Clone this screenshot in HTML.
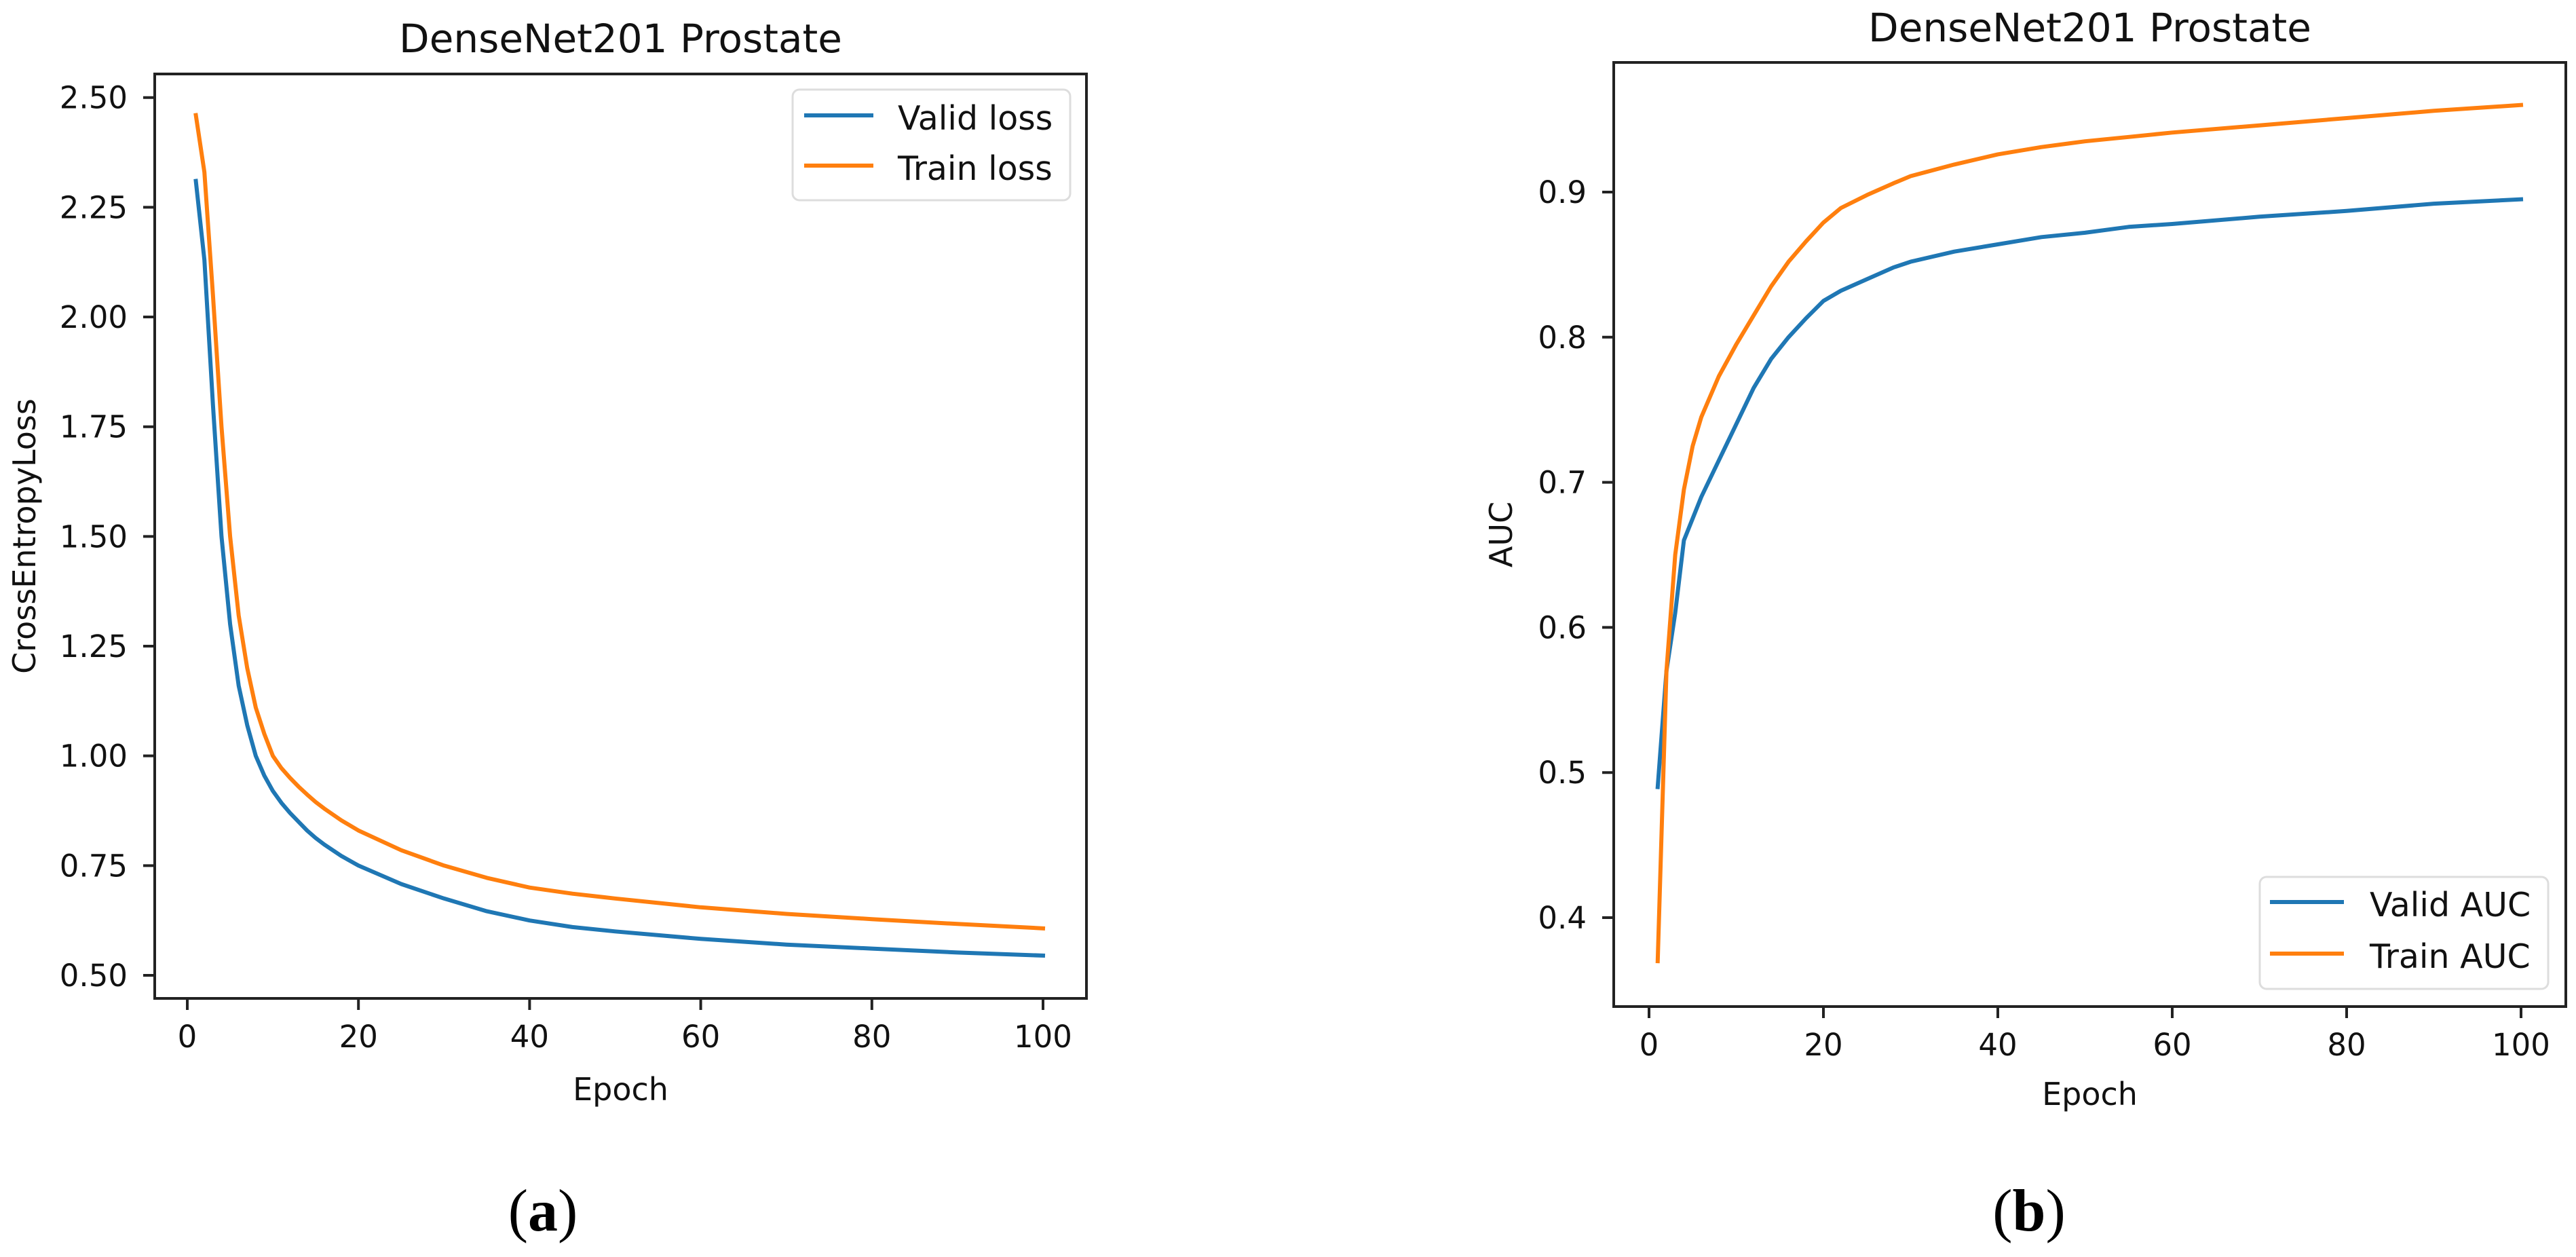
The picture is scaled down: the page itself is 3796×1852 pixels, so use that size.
<!DOCTYPE html>
<html><head><meta charset="utf-8">
<style>
html,body{margin:0;padding:0;background:#fff;}
svg{display:block;font-family:"DejaVu Sans","Liberation Sans",sans-serif;}
</style></head>
<body>
<svg id="fig" width="3796" height="1852" viewBox="0 0 3796 1852" xmlns="http://www.w3.org/2000/svg">
  <rect width="3796" height="1852" fill="#fff"/>
  <g id="chartA"></g>
  <g id="chartB"></g>
  <text x="800" y="1813" text-anchor="middle" font-family="Liberation Serif, serif" font-size="88"><tspan>(</tspan><tspan font-weight="bold">a</tspan><tspan>)</tspan></text>
  <text x="2990" y="1813" text-anchor="middle" font-family="Liberation Serif, serif" font-size="88"><tspan>(</tspan><tspan font-weight="bold">b</tspan><tspan>)</tspan></text>
</svg>
<script>
// ---- Loss chart data ----
const lossEpochs = [1,2,3,4,5,6,7,8,9,10,11,12,13,14,15,16,18,20,25,30,35,40,45,50,60,70,80,90,100];
const validLoss = [2.31,2.13,1.80,1.50,1.30,1.16,1.07,1.00,0.955,0.92,0.893,0.87,0.85,0.83,0.813,0.798,0.772,0.75,0.708,0.675,0.646,0.625,0.61,0.60,0.583,0.57,0.561,0.552,0.545];
const trainLoss = [2.46,2.33,2.05,1.75,1.50,1.32,1.20,1.11,1.05,1.00,0.972,0.95,0.93,0.912,0.895,0.88,0.853,0.83,0.785,0.75,0.722,0.70,0.686,0.675,0.655,0.64,0.628,0.617,0.607];
const lossYTicks = [0.50,0.75,1.00,1.25,1.50,1.75,2.00,2.25,2.50];
const lossYTickLabels = ["0.50","0.75","1.00","1.25","1.50","1.75","2.00","2.25","2.50"];
// ---- AUC chart data ----
const aucEpochs = [1,2,3,4,5,6,8,10,12,14,16,18,20,22,25,28,30,35,40,45,50,55,60,70,80,90,100];
const validAUC = [0.49,0.57,0.61,0.66,0.675,0.69,0.715,0.74,0.765,0.785,0.80,0.813,0.825,0.832,0.84,0.848,0.852,0.859,0.864,0.869,0.872,0.876,0.878,0.883,0.887,0.892,0.895];
const trainAUC = [0.37,0.57,0.65,0.695,0.725,0.745,0.773,0.795,0.815,0.835,0.852,0.866,0.879,0.889,0.898,0.906,0.911,0.919,0.926,0.931,0.935,0.938,0.941,0.946,0.951,0.956,0.96];
const aucYTicks = [0.4,0.5,0.6,0.7,0.8,0.9];
const aucYTickLabels = ["0.4","0.5","0.6","0.7","0.8","0.9"];
const xTicks = [0,20,40,60,80,100];
const xTickLabels = ["0","20","40","60","80","100"];

const NS = "http://www.w3.org/2000/svg";
function mk(tag, attrs, parent){
  const e = document.createElementNS(NS, tag);
  for (const k in attrs) e.setAttribute(k, attrs[k]);
  parent.appendChild(e);
  return e;
}

function drawChart(g, cfg){
  const L=cfg.left, R=cfg.right, T=cfg.top, B=cfg.bottom;
  const xs = v => cfg.x0px + (v - 0) * (cfg.x100px - cfg.x0px) / 100;
  const ys = v => cfg.ya.px + (v - cfg.ya.v) * (cfg.yb.px - cfg.ya.px) / (cfg.yb.v - cfg.ya.v);

  const title = mk('text',{x:(L+R)/2, y:cfg.titleY, 'text-anchor':'middle','font-size':58, fill:'#111'}, g);
  title.textContent = cfg.title;
  
  

  cfg.series.forEach(s=>{
    let d = '';
    s.ys.forEach((v,i)=>{ d += (i?'L':'M') + xs(cfg.epochs[i]).toFixed(1) + ' ' + ys(v).toFixed(1) + ' '; });
    const p = mk('path',{d:d, fill:'none', stroke:s.color, 'stroke-width':6, 'stroke-linejoin':'round','stroke-linecap':'square'}, g);
    
    
  });

  const fr = mk('rect',{x:L, y:T, width:R-L, height:B-T, fill:'none', stroke:'#222', 'stroke-width':4}, g);
  
  

  xTicks.forEach((t,i)=>{
    const x = xs(t);
    const tk = mk('line',{x1:x, y1:B, x2:x, y2:B+17, stroke:'#222','stroke-width':4}, g);
    
    
    const lb = mk('text',{x:x, y:B+72, 'text-anchor':'middle','font-size':45, fill:'#111'}, g);
    lb.textContent = xTickLabels[i];
    
    
  });
  cfg.yTicks.forEach((t,i)=>{
    const y = ys(t);
    const tk = mk('line',{x1:L-17, y1:y, x2:L, y2:y, stroke:'#222','stroke-width':4}, g);
    
    
    const lb = mk('text',{x:L-40, y:y+16, 'text-anchor':'end','font-size':45, fill:'#111'}, g);
    lb.textContent = cfg.yTickLabels[i];
    
    
  });
  const xl = mk('text',{x:(L+R)/2, y:cfg.xLabelY, 'text-anchor':'middle','font-size':46, fill:'#111'}, g);
  xl.textContent = 'Epoch';
  
  
  const yl = mk('text',{x:0, y:0, 'text-anchor':'middle','font-size':46, fill:'#111', transform:`translate(${cfg.yLabelX},${(T+B)/2}) rotate(-90)`}, g);
  yl.textContent = cfg.yLabel;
  
  

  const lg = cfg.legend;
  const box = mk('rect',{x:lg.x, y:lg.y, width:lg.w, height:lg.h, rx:10, fill:'#fff', 'fill-opacity':0.8, stroke:'#ddd','stroke-width':3}, g);
  
  
  cfg.series.forEach((s,i)=>{
    const ly = lg.line0 + i*lg.gap;
    const ln = mk('line',{x1:lg.lx1, y1:ly, x2:lg.lx2, y2:ly, stroke:s.color,'stroke-width':6}, g);
    
    
    const tx = mk('text',{x:lg.tx, y:ly+21, 'font-size':49, fill:'#111'}, g);
    tx.textContent = s.label;
    
    
  });
}

drawChart(document.getElementById('chartA'), {
  left:228, right:1601, top:109, bottom:1471,
  x0px:276, x100px:1537,
  ya:{v:2.5, px:143.7}, yb:{v:0.5, px:1437},
  title:'DenseNet201 Prostate', titleY:77,
  yTicks:lossYTicks, yTickLabels:lossYTickLabels,
  xLabelY:1621, yLabel:'CrossEntropyLoss', yLabelX:52,
  epochs:lossEpochs,
  series:[{name:'valid-loss-line', label:'Valid loss', color:'#1f77b4', ys:validLoss},
          {name:'train-loss-line', label:'Train loss', color:'#ff7f0e', ys:trainLoss}],
  legend:{x:1168, y:132, w:409, h:163, lx1:1185, lx2:1287, line0:170, gap:74, tx:1323}
});

drawChart(document.getElementById('chartB'), {
  left:2378, right:3781, top:92, bottom:1483,
  x0px:2430, x100px:3715,
  ya:{v:0.9, px:283}, yb:{v:0.4, px:1352},
  title:'DenseNet201 Prostate', titleY:61,
  yTicks:aucYTicks, yTickLabels:aucYTickLabels,
  xLabelY:1628, yLabel:'AUC', yLabelX:2228,
  epochs:aucEpochs,
  series:[{name:'valid-auc-line', label:'Valid AUC', color:'#1f77b4', ys:validAUC},
          {name:'train-auc-line', label:'Train AUC', color:'#ff7f0e', ys:trainAUC}],
  legend:{x:3330, y:1292, w:425, h:165, lx1:3345, lx2:3454, line0:1329, gap:76, tx:3492}
});
</script>
</body></html>
